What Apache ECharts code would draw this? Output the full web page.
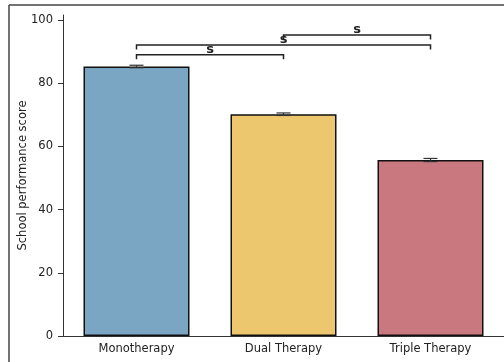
<!DOCTYPE html>
<html>
<head>
<meta charset="utf-8">
<script src="https://cdn.jsdelivr.net/npm/echarts@6/dist/echarts.min.js"></script>
<style>html,body{margin:0;padding:0;background:#fff}#c{width:504px;height:362px}</style>
</head>
<body>
<div id="c"></div>
<script>
var categories = ['Monotherapy', 'Dual Therapy', 'Triple Therapy'];
var scores = [85.3, 70.2, 55.7];
var errors = [0.4, 0.4, 0.5];
var barColors = ['#7aa6c3', '#ecc76d', '#c97880'];
var yTicks = [0, 20, 40, 60, 80, 100];
// brackets: [from index, to index, height, label]
var brackets = [[0, 1, 89.0, 's'], [0, 2, 92.1, 's'], [1, 2, 95.3, 's']];

var chart = echarts.init(document.getElementById('c'));
var font = 'DejaVu Sans';
chart.setOption({
  animation: false,
  grid: { left: 63, right: 0, top: 15, bottom: 26 },
  xAxis: {
    type: 'category',
    data: categories,
    axisLine: { lineStyle: { color: '#333', width: 1 } },
    axisTick: { alignWithLabel: true, length: 4, lineStyle: { color: '#333' } },
    axisLabel: { fontFamily: font, fontSize: 11.5, color: '#222', margin: 7 }
  },
  yAxis: {
    type: 'value',
    min: 0, max: 101.6, interval: 20,
    name: 'School performance score',
    nameLocation: 'middle',
    nameGap: 34,
    nameMoveOverlap: false,
    nameTextStyle: { fontFamily: font, fontSize: 11.5, color: '#222' },
    splitLine: { show: false },
    axisLine: { show: true, lineStyle: { color: '#333', width: 1 } },
    axisTick: { show: true, length: 5, lineStyle: { color: '#333' }, customValues: yTicks },
    axisLabel: { fontFamily: font, fontSize: 11.5, color: '#222', margin: 10, customValues: yTicks }
  },
  series: [
    {
      type: 'bar',
      barWidth: 106,
      data: scores.map(function (v, i) {
        return { value: v, itemStyle: { color: barColors[i] } };
      }),
      itemStyle: { borderColor: '#111', borderWidth: 1.5 }
    },
    {
      type: 'custom',
      data: scores.map(function (v, i) { return [i, v, errors[i]]; }),
      renderItem: function (params, api) {
        var x = api.value(0), v = api.value(1), e = api.value(2);
        var lo = api.coord([x, v - e]), hi = api.coord([x, v + e]);
        var st = { stroke: '#333', lineWidth: 1.2 };
        return {
          type: 'group',
          children: [
            { type: 'line', shape: { x1: lo[0], y1: lo[1], x2: hi[0], y2: hi[1] }, style: st },
            { type: 'line', shape: { x1: hi[0] - 7, y1: hi[1], x2: hi[0] + 7, y2: hi[1] }, style: st },
            { type: 'line', shape: { x1: lo[0] - 7, y1: lo[1], x2: lo[0] + 7, y2: lo[1] }, style: st }
          ]
        };
      },
      z: 5
    },
    {
      type: 'custom',
      data: brackets,
      renderItem: function (params, api) {
        var a = api.value(0), b = api.value(1), h = api.value(2);
        var p1 = api.coord([a, h]), p2 = api.coord([b, h]);
        var st = { stroke: '#222', lineWidth: 1.5, fill: null };
        return {
          type: 'group',
          children: [
            { type: 'polyline', shape: { points: [[p1[0], p1[1] + 4.5], [p1[0], p1[1]], [p2[0], p2[1]], [p2[0], p2[1] + 4.5]] }, style: st },
            { type: 'text', style: { text: brackets[params.dataIndex][3], x: (p1[0] + p2[0]) / 2, y: p1[1] + 1.5, align: 'center', verticalAlign: 'bottom', font: 'bold 13px "DejaVu Sans"', fill: '#222' } }
          ]
        };
      },
      z: 6
    }
  ],
  graphic: [
    { type: 'line', shape: { x1: 9, y1: 5, x2: 504, y2: 5 }, style: { stroke: '#444', lineWidth: 1.5 } },
    { type: 'line', shape: { x1: 9, y1: 5, x2: 9, y2: 362 }, style: { stroke: '#444', lineWidth: 1.5 } }
  ]
});
</script>
</body>
</html>
